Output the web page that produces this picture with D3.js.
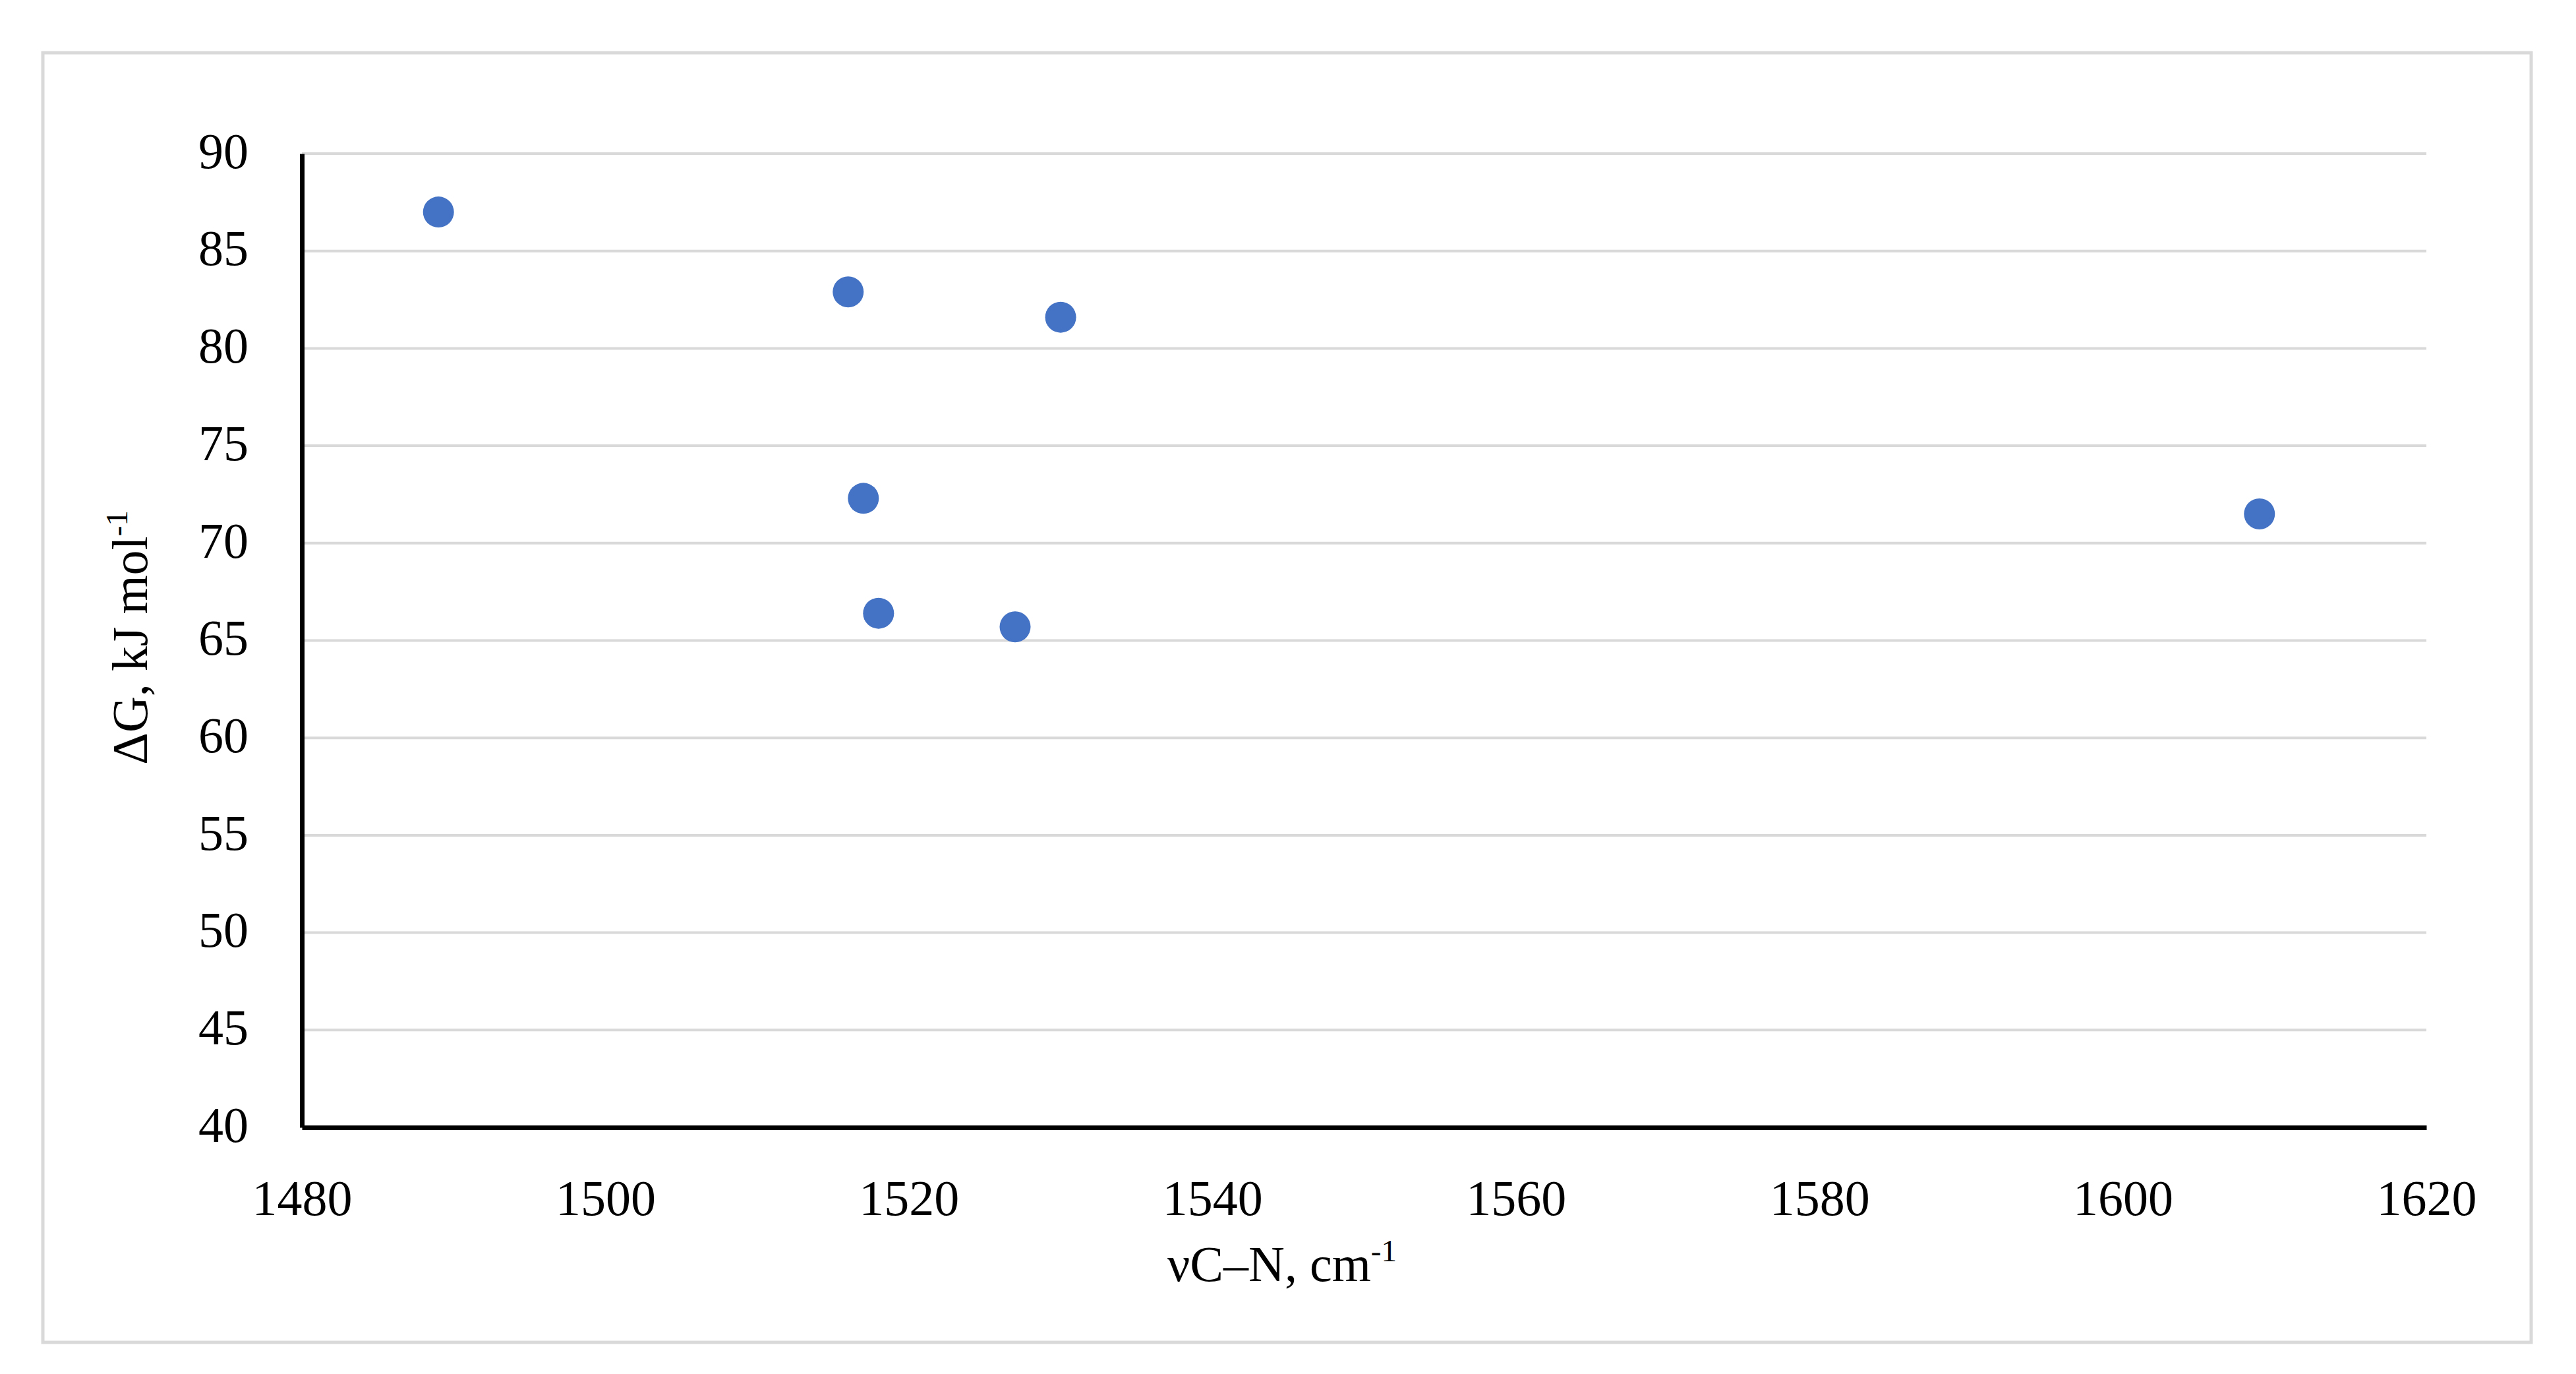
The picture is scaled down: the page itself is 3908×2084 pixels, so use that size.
<!DOCTYPE html>
<html>
<head>
<meta charset="utf-8">
<script src="https://cdn.jsdelivr.net/npm/d3@7"></script>
<style>
  html, body { margin: 0; padding: 0; background: #ffffff; }
  svg { display: block; }
  text { font-family: "Liberation Serif", "Times New Roman", serif; fill: #000; }
</style>
</head>
<body>
<script>
// ---- data ----
const nuCN = [1489, 1516, 1530, 1517, 1518, 1527, 1609];
const deltaG = [87.0, 82.9, 81.6, 72.3, 66.4, 65.7, 71.5];
const xTicks = [1480, 1500, 1520, 1540, 1560, 1580, 1600, 1620];
const yTicks = [40, 45, 50, 55, 60, 65, 70, 75, 80, 85, 90];
const xTitle = "νC–N, cm";
const yTitle = "ΔG, kJ mol";
const supText = "-1";

const W = 3908, H = 2084;
const plot = { left: 458, right: 3681, top: 233, bottom: 1710 };

const svg = d3.select("body").append("svg")
  .attr("width", W).attr("height", H);

svg.append("rect").attr("x", 0).attr("y", 0).attr("width", W).attr("height", H).attr("fill", "#fff");

// outer frame
svg.append("rect")
  .attr("x", 65).attr("y", 80).attr("width", 3775).attr("height", 1956)
  .attr("fill", "none").attr("stroke", "#d9d9d9").attr("stroke-width", 5);

const x = d3.scaleLinear().domain([1480, 1620]).range([plot.left, plot.right]);
const y = d3.scaleLinear().domain([40, 90]).range([plot.bottom, plot.top]);

// gridlines
svg.append("g").selectAll("line")
  .data(yTicks.filter(v => v > 40))
  .join("line")
  .attr("x1", plot.left).attr("x2", plot.right)
  .attr("y1", d => y(d)).attr("y2", d => y(d))
  .attr("stroke", "#d9d9d9").attr("stroke-width", 4);

// axes
const fs = 76;
const gx = svg.append("g").attr("transform", `translate(0,${plot.bottom})`)
  .call(d3.axisBottom(x).tickValues(xTicks).tickSize(0).tickSizeOuter(0).tickPadding(79).tickFormat(d3.format("d")));
gx.select(".domain").attr("stroke", "#000").attr("stroke-width", 7);
gx.selectAll("text").attr("font-size", fs).attr("font-family", "Liberation Serif").attr("fill", "#000");

const gy = svg.append("g").attr("transform", `translate(${plot.left},0)`)
  .call(d3.axisLeft(y).tickValues(yTicks).tickSize(0).tickSizeOuter(0).tickPadding(81).tickFormat(d3.format("d")));
gy.select(".domain").attr("stroke", "#000").attr("stroke-width", 7);
gy.selectAll("text").attr("font-size", fs).attr("font-family", "Liberation Serif").attr("fill", "#000").attr("dy", "0.28em");

// points
svg.append("g").selectAll("circle")
  .data(nuCN.map((v, i) => [v, deltaG[i]]))
  .join("circle")
  .attr("cx", d => x(d[0])).attr("cy", d => y(d[1]))
  .attr("r", 23.5).attr("fill", "#4472c4");

// x title
const xt = svg.append("text")
  .attr("x", 1945).attr("y", 1943)
  .attr("text-anchor", "middle").attr("font-size", fs);
xt.append("tspan").text(xTitle);
xt.append("tspan").attr("font-size", fs * 0.62).attr("dy", -30).text(supText);

// y title
const yt = svg.append("text")
  .attr("transform", `translate(223,967) rotate(-90)`)
  .attr("text-anchor", "middle").attr("font-size", fs);
yt.append("tspan").text(yTitle);
yt.append("tspan").attr("font-size", fs * 0.62).attr("dy", -30).text(supText);
</script>
</body>
</html>
